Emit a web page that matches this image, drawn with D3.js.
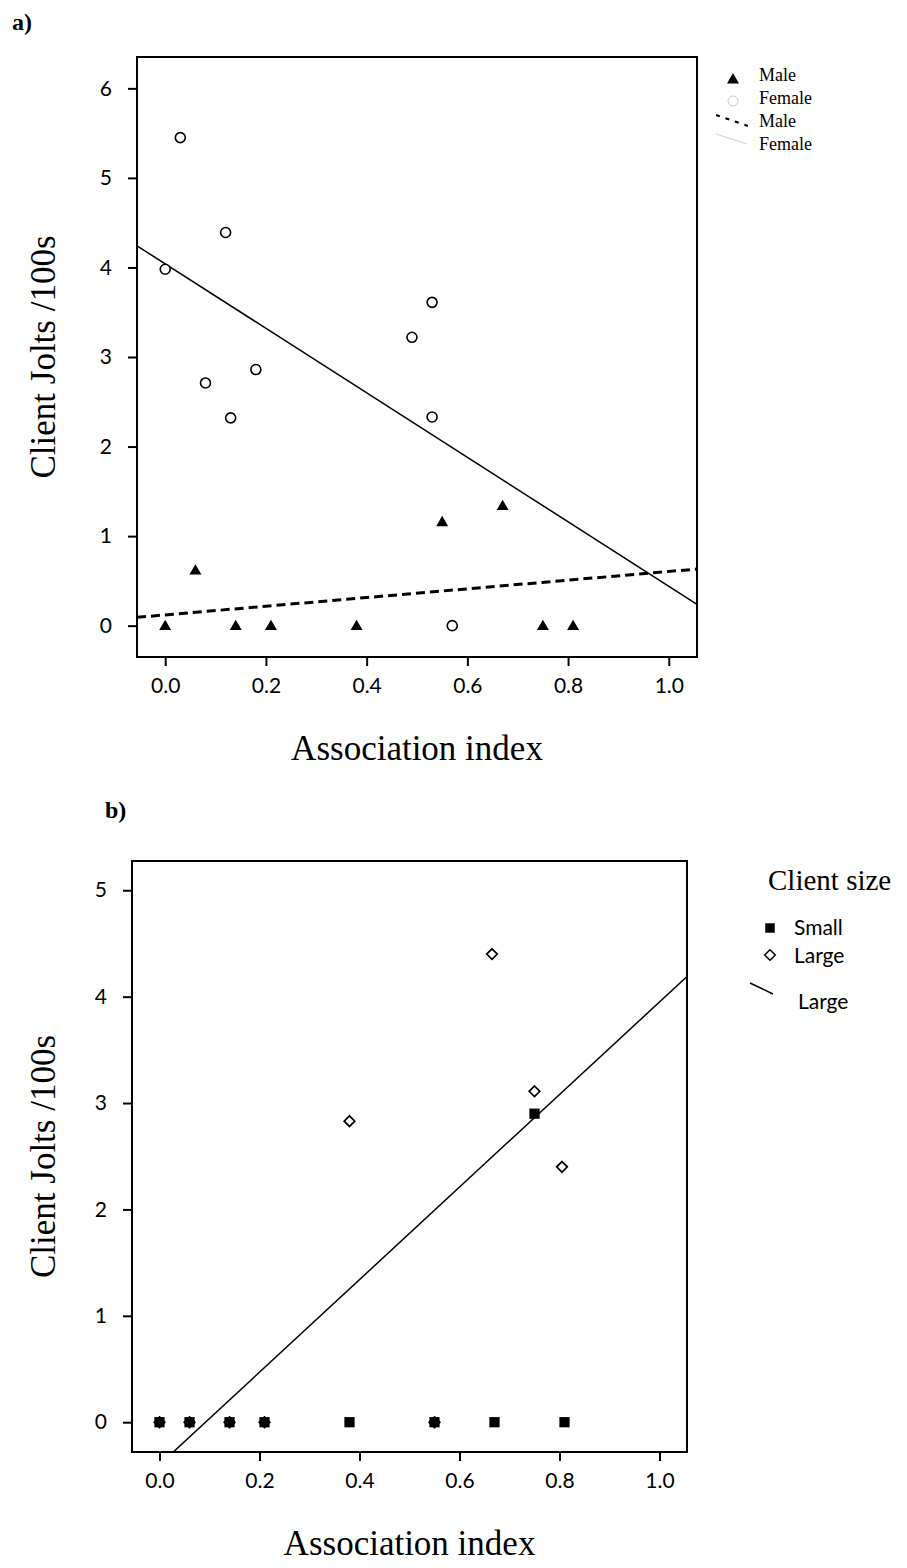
<!DOCTYPE html>
<html>
<head>
<meta charset="utf-8">
<script src="https://cdn.jsdelivr.net/npm/d3@7"></script>
<style>
  html, body { margin: 0; padding: 0; background: #fff; }
  svg { display: block; }
</style>
</head>
<body>
<svg id="chart" width="907" height="1568"></svg>
<script>
// ---------------- DATA ----------------
// Panel a
const aFemaleX = [0.00, 0.03, 0.12, 0.08, 0.13, 0.18, 0.49, 0.53, 0.53, 0.57];
const aFemaleY = [3.98, 5.45, 4.39, 2.71, 2.32, 2.86, 3.22, 3.61, 2.33, 0.00];
const aMaleX = [0.00, 0.06, 0.14, 0.21, 0.38, 0.55, 0.67, 0.75, 0.81];
const aMaleY = [0.00, 0.62, 0.00, 0.00, 0.00, 1.16, 1.34, 0.00, 0.00];
const aFemaleFit = [4.04, -3.60];   // intercept, slope
const aMaleFit = [0.12, 0.485];     // intercept, slope
const aXTicks = [0.0, 0.2, 0.4, 0.6, 0.8, 1.0];
const aYTicks = [0, 1, 2, 3, 4, 5, 6];
const aLegendLabels = ["Male", "Female", "Male", "Female"];

// Panel b
const bSmallX = [0.00, 0.06, 0.14, 0.21, 0.38, 0.55, 0.67, 0.75, 0.81];
const bSmallY = [0.00, 0.00, 0.00, 0.00, 0.00, 0.00, 0.00, 2.90, 0.00];
const bLargeX = [0.00, 0.06, 0.14, 0.21, 0.38, 0.55, 0.665, 0.75, 0.805];
const bLargeY = [0.00, 0.00, 0.00, 0.00, 2.83, 0.00, 4.40, 3.11, 2.40];
const bLargeFit = [-0.40, 4.35];    // intercept, slope
const bXTicks = [0.0, 0.2, 0.4, 0.6, 0.8, 1.0];
const bYTicks = [0, 1, 2, 3, 4, 5];
const bLegendTitle = "Client size";
const bLegendLabels = ["Small", "Large", "Large"];

const xLabel = "Association index";
const yLabel = "Client Jolts /100s";

// ---------------- DRAW ----------------
const svg = d3.select("#chart");
const serif = "'Liberation Serif', 'Times New Roman', serif";
const sans = "Lato, 'Open Sans', sans-serif";

function panel(cfg) {
  const x = d3.scaleLinear().domain(cfg.xDomain).range([cfg.left, cfg.right]);
  const y = d3.scaleLinear().domain(cfg.yDomain).range([cfg.bottom, cfg.top]);
  const g = svg.append("g");

  const clipId = "clip" + cfg.id;
  svg.append("clipPath").attr("id", clipId).append("rect")
    .attr("x", cfg.left).attr("y", cfg.top)
    .attr("width", cfg.right - cfg.left).attr("height", cfg.bottom - cfg.top);

  // axes
  const xAxis = d3.axisBottom(x).tickValues(cfg.xTicks).tickFormat(d3.format(".1f"))
    .tickSize(9).tickPadding(12);
  const yAxis = d3.axisLeft(y).tickValues(cfg.yTicks).tickFormat(d3.format("d"))
    .tickSize(9).tickPadding(16);
  const gx = g.append("g").attr("transform", `translate(0,${cfg.bottom})`).call(xAxis);
  const gy = g.append("g").attr("transform", `translate(${cfg.left},0)`).call(yAxis);
  [gx, gy].forEach(a => {
    a.select(".domain").remove();
    a.selectAll(".tick line").attr("stroke", "#000").attr("stroke-width", 2);
    a.selectAll(".tick text").attr("fill", "#000")
      .style("font-family", sans).style("font-size", "21px");
  });

  // frame
  g.append("rect").attr("x", cfg.left).attr("y", cfg.top)
    .attr("width", cfg.right - cfg.left).attr("height", cfg.bottom - cfg.top)
    .attr("fill", "none").attr("stroke", "#000").attr("stroke-width", 2);

  // axis titles
  g.append("text").attr("x", (cfg.left + cfg.right) / 2).attr("y", cfg.bottom + cfg.xTitleOff)
    .attr("text-anchor", "middle").style("font-family", serif).style("font-size", "35px")
    .text(xLabel);
  g.append("text")
    .attr("transform", `translate(${cfg.yTitleX},${(cfg.top + cfg.bottom) / 2}) rotate(-90)`)
    .attr("text-anchor", "middle").style("font-family", serif).style("font-size", "35px")
    .text(yLabel);

  return { x, y, g, clipId };
}

function fitLine(p, fit, domain, attrs) {
  const pts = domain.map(v => [p.x(v), p.y(fit[0] + fit[1] * v)]);
  const l = p.g.append("line")
    .attr("x1", pts[0][0]).attr("y1", pts[0][1]).attr("x2", pts[1][0]).attr("y2", pts[1][1])
    .attr("clip-path", `url(#${p.clipId})`).attr("stroke", "#000");
  Object.entries(attrs).forEach(([k, v]) => l.attr(k, v));
  return l;
}

// ---------- Panel a ----------
const A = panel({
  id: "a", left: 137, right: 697, top: 57, bottom: 657,
  xDomain: [-0.056, 1.056], yDomain: [-0.35, 6.35],
  xTicks: aXTicks, yTicks: aYTicks, xTitleOff: 103, yTitleX: 55
});

fitLine(A, aFemaleFit, A.x.domain(), { "stroke-width": 1.5 });
fitLine(A, aMaleFit, A.x.domain(), { "stroke-width": 3, "stroke-dasharray": "9,5" });

const tri = d3.symbol().type(d3.symbolTriangle).size(62);
A.g.selectAll(".male").data(aMaleX.map((v, i) => [v, aMaleY[i]])).join("path")
  .attr("d", tri).attr("transform", d => `translate(${A.x(d[0])},${A.y(d[1]) + 1})`)
  .attr("fill", "#000");
A.g.selectAll(".female").data(aFemaleX.map((v, i) => [v, aFemaleY[i]])).join("circle")
  .attr("cx", d => A.x(d[0])).attr("cy", d => A.y(d[1])).attr("r", 5)
  .attr("fill", "#fff").attr("stroke", "#000").attr("stroke-width", 1.6);

// legend a
const la = svg.append("g");
la.append("path").attr("d", tri).attr("transform", "translate(733,80)").attr("fill", "#000");
la.append("circle").attr("cx", 733).attr("cy", 101).attr("r", 5)
  .attr("fill", "#fff").attr("stroke", "#c8c8c8").attr("stroke-width", 1);
la.append("line").attr("x1", 716).attr("y1", 115).attr("x2", 748).attr("y2", 126)
  .attr("stroke", "#000").attr("stroke-width", 2).attr("stroke-dasharray", "4,6");
la.append("line").attr("x1", 716).attr("y1", 134).attr("x2", 747).attr("y2", 144)
  .attr("stroke", "#d0d0d0").attr("stroke-width", 1);
la.selectAll("text.lab").data(aLegendLabels).join("text")
  .attr("x", 759).attr("y", (d, i) => 81 + i * 23)
  .style("font-family", serif).style("font-size", "18px").text(d => d);

svg.append("text").attr("x", 12).attr("y", 30).style("font-family", serif)
  .style("font-size", "24px").style("font-weight", "bold").text("a)");

// ---------- Panel b ----------
const B = panel({
  id: "b", left: 132, right: 687, top: 861, bottom: 1452,
  xDomain: [-0.055, 1.055], yDomain: [-0.28, 5.275],
  xTicks: bXTicks, yTicks: bYTicks, xTitleOff: 103, yTitleX: 55
});

fitLine(B, bLargeFit, B.x.domain(), { "stroke-width": 1.5 });

const diam = d3.symbol().type(d3.symbolDiamond2).size(72);
const sq = d3.symbol().type(d3.symbolSquare).size(105);
B.g.selectAll(".large").data(bLargeX.map((v, i) => [v, bLargeY[i]])).join("path")
  .attr("d", diam).attr("transform", d => `translate(${B.x(d[0])},${B.y(d[1])})`)
  .attr("fill", "#fff").attr("stroke", "#000").attr("stroke-width", 1.7);
B.g.selectAll(".small").data(bSmallX.map((v, i) => [v, bSmallY[i]])).join("path")
  .attr("d", sq).attr("transform", d => `translate(${B.x(d[0])},${B.y(d[1])})`)
  .attr("fill", "#000");

// legend b
const lb = svg.append("g");
lb.append("text").attr("x", 768).attr("y", 890).style("font-family", serif)
  .style("font-size", "29px").text(bLegendTitle);
lb.append("path").attr("d", d3.symbol().type(d3.symbolSquare).size(90))
  .attr("transform", "translate(770,928)").attr("fill", "#000");
lb.append("path").attr("d", diam).attr("transform", "translate(770,955)")
  .attr("fill", "#fff").attr("stroke", "#000").attr("stroke-width", 1.5);
lb.append("line").attr("x1", 750).attr("y1", 983).attr("x2", 773).attr("y2", 994)
  .attr("stroke", "#000").attr("stroke-width", 1.5);
lb.selectAll("text.lab").data(bLegendLabels).join("text")
  .attr("x", (d, i) => i === 2 ? 798 : 794)
  .attr("y", (d, i) => [935, 963, 1009][i])
  .style("font-family", sans).style("font-size", "21px").text(d => d);

svg.append("text").attr("x", 105).attr("y", 818).style("font-family", serif)
  .style("font-size", "24px").style("font-weight", "bold").text("b)");
</script>
</body>
</html>
